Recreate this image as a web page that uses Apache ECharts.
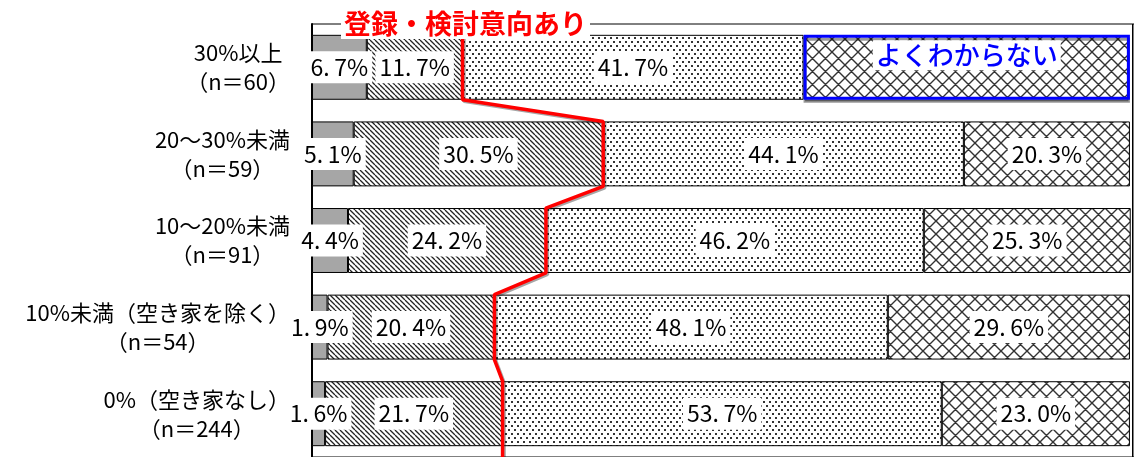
<!DOCTYPE html>
<html>
<head>
<meta charset="utf-8">
<script src="https://cdn.jsdelivr.net/npm/echarts@6/dist/echarts.min.js"></script>
<style>
  html, body { margin: 0; padding: 0; background: #fff; }
  #chart { width: 1134px; height: 457px; }
</style>
</head>
<body>
<div id="chart"></div>
<script>
// 空き家率別 登録意向（%）
var categories = ['30%以上\n（n＝60）', '20～30%未満\n（n＝59）', '10～20%未満\n（n＝91）',
    '10%未満（空き家を除く）\n（n＝54）', '0%（空き家なし）\n（n＝244）'];
var registered = [6.7, 5.1, 4.4, 1.9, 1.6];
var considering = [11.7, 30.5, 24.2, 20.4, 21.7];
var noIntention = [41.7, 44.1, 46.2, 48.1, 53.7];
var unknown = [39.9, 20.3, 25.3, 29.6, 23.0];

var JP_FONT = "'Noto Sans CJK JP', sans-serif";

// 網掛けパターン
function makePattern(w, h, draw) {
    var c = document.createElement('canvas');
    c.width = w;
    c.height = h;
    var ctx = c.getContext('2d');
    ctx.fillStyle = '#fff';
    ctx.fillRect(0, 0, w, h);
    draw(ctx, w, h);
    return { image: c, repeat: 'repeat' };
}
var stripes = makePattern(5, 5, function (ctx, w, h) {
    ctx.strokeStyle = '#222';
    ctx.lineWidth = 1.3;
    ctx.beginPath();
    [-w, 0, w].forEach(function (k) {
        ctx.moveTo(k, 0);
        ctx.lineTo(k + w, h);
    });
    ctx.stroke();
});
var dots = makePattern(6, 8, function (ctx) {
    ctx.fillStyle = '#333';
    ctx.fillRect(1, 1, 2, 2);
    ctx.fillRect(4, 5, 2, 2);
});
var cross = makePattern(13, 13, function (ctx, w, h) {
    ctx.strokeStyle = '#333';
    ctx.lineWidth = 1.4;
    ctx.beginPath();
    [-w, 0, w].forEach(function (k) {
        ctx.moveTo(k, 0);
        ctx.lineTo(k + w, h);
        ctx.moveTo(k + w, 0);
        ctx.lineTo(k, h);
    });
    ctx.stroke();
});

// 登録・検討意向あり の境界線
var borderPts = [];
for (var i = 0; i < categories.length; i++) {
    var c = +(registered[i] + considering[i]).toFixed(1);
    borderPts.push([c, i === 0 ? 0 : i + 0.125]);
    borderPts.push([c, i === categories.length - 1 ? categories.length : i + 0.875]);
}

function pctLabel(p) {
    return p.value.toFixed(1).replace('.', '.\u2009') + '%';
}

var labelStyle = {
    show: true,
    position: 'inside',
    formatter: pctLabel,
    color: '#000',
    fontFamily: JP_FONT,
    fontSize: 23,
    backgroundColor: '#fff',
    padding: [5, 4, 4, 4]
};

function barSeries(name, values, color) {
    return {
        name: name,
        type: 'bar',
        stack: 'total',
        barWidth: '75%',
        itemStyle: { color: color, borderColor: '#000', borderWidth: 1 },
        label: labelStyle,
        data: values
    };
}

var unknownData = unknown.map(function (v, idx) {
    if (idx !== 0) return v;
    return {
        value: v,
        itemStyle: { borderColor: '#0000ff', borderWidth: 3, shadowColor: 'rgba(0,0,0,0.4)', shadowOffsetY: 3 },
        label: {
            formatter: 'よくわからない',
            color: '#0000ff',
            fontFamily: JP_FONT,
            fontSize: 26,
            fontWeight: 500,
            offset: [0, -12],
            padding: [2, 3, 2, 3]
        }
    };
});

var myChart = echarts.init(document.getElementById('chart'));
var option = {
    animation: false,
    grid: {
        left: 312,
        right: -2,
        top: 24,
        bottom: -5,
        show: true,
        borderColor: '#000',
        borderWidth: 1
    },
    xAxis: { type: 'value', min: 0, max: 100.5, show: false },
    yAxis: [{
        type: 'category',
        inverse: true,
        data: categories,
        axisLine: { show: true, lineStyle: { color: '#000', width: 2 } },
        axisTick: { show: false },
        axisLabel: {
            margin: 22,
            formatter: function (v) {
                return v.split('\n').map(function (s) { return '{a|' + s + '}'; }).join('\n');
            },
            rich: {
                a: { align: 'center', fontSize: 22, lineHeight: 29, color: '#000', fontFamily: JP_FONT }
            }
        }
    }, {
        type: 'value',
        min: 0,
        max: categories.length,
        inverse: true,
        show: false
    }],
    series: [
        barSeries('登録している', registered, '#a6a6a6'),
        barSeries('登録を検討したい', considering, stripes),
        barSeries('登録するつもりはない', noIntention, dots),
        barSeries('よくわからない', unknownData, cross),
        {
            name: '登録・検討意向あり',
            type: 'line',
            xAxisIndex: 0,
            yAxisIndex: 1,
            symbol: 'none',
            silent: true,
            z: 5,
            lineStyle: {
                color: '#ff0000',
                width: 3.5,
                shadowColor: 'rgba(0,0,0,0.35)',
                shadowOffsetX: 1.5,
                shadowOffsetY: 1.5
            },
            data: borderPts
        }
    ],
    graphic: [{
        type: 'text',
        left: 341,
        top: 8,
        z: 10,
        style: {
            text: '登録・検討意向あり',
            fill: '#ff0000',
            font: "bold 27px 'Noto Sans CJK JP'",
            backgroundColor: '#fff',
            padding: [2, 3]
        }
    }, {
        // 右端の枠線
        type: 'rect',
        right: 1,
        top: 24,
        z: 10,
        shape: { width: 1, height: 440 },
        style: { fill: '#000' }
    }]
};
myChart.setOption(option);
</script>
</body>
</html>
